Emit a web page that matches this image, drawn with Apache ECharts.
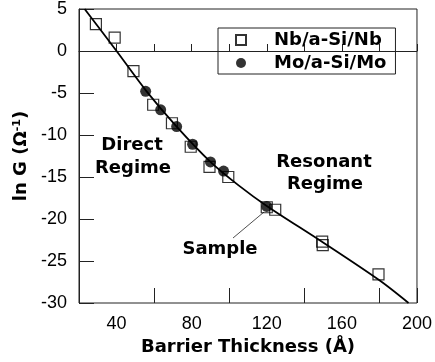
<!DOCTYPE html>
<html>
<head>
<meta charset="utf-8">
<script src="https://cdn.jsdelivr.net/npm/echarts@6/dist/echarts.min.js"></script>
<style>
  html, body { margin: 0; padding: 0; background: #fff; }
  #chart { width: 435px; height: 362px; }
</style>
</head>
<body>
<div id="chart"></div>
<script>
// Nb/a-Si/Nb junctions (open squares)
const nbThickness = [29, 39, 49, 59.5, 69.5, 79.5, 89.5, 99.5, 120, 124.5, 149.5, 149.8, 179.5];
const nbLnG = [3.2, 1.6, -2.4, -6.4, -8.6, -11.4, -13.8, -15.0, -18.6, -18.9, -22.7, -23.1, -26.6];

// Mo/a-Si/Mo junctions (filled circles)
const moThickness = [55.5, 63.5, 72, 80.5, 90, 97, 120];
const moLnG = [-4.8, -7.0, -9.0, -11.1, -13.2, -14.3, -18.5];

// fitted curve
const fitThickness = [23, 40, 56, 72, 90, 105, 120, 150, 180, 195.5];
const fitLnG = [5, 0, -4.8, -9.0, -13.2, -16.0, -18.45, -22.8, -27.3, -30];

const FONT = 'Liberation Sans';
const BOLD = 'DejaVu Sans';
const boldFont = 'bold 18px "DejaVu Sans"';
const pairs = (xs, ys) => xs.map((x, i) => [x, ys[i]]);

const chart = echarts.init(document.getElementById('chart'));

function label(text, x, y) {
  return {
    type: 'text', x, y,
    style: { text, font: boldFont, fill: '#000', align: 'center', verticalAlign: 'middle' }
  };
}

chart.setOption({
  animation: false,
  grid: {
    left: 79, right: 17, top: 9, bottom: 59,
    show: true, borderColor: '#222', borderWidth: 1
  },
  legend: {
    left: 218, top: 28,
    orient: 'vertical',
    data: ['Nb/a-Si/Nb', 'Mo/a-Si/Mo'],
    borderColor: '#222', borderWidth: 1,
    padding: [3, 9, 2, 17],
    itemWidth: 10, itemHeight: 10, itemGap: 5,
    textStyle: {
      fontFamily: BOLD, fontSize: 18, fontWeight: 'bold', color: '#000',
      lineHeight: 18, padding: [0, 0, 0, 23]
    }
  },
  xAxis: [
    {
      type: 'value', min: 20, max: 200, interval: 20,
      position: 'bottom',
      name: 'Barrier Thickness (Å)',
      nameLocation: 'middle', nameGap: 34,
      nameTextStyle: { fontFamily: BOLD, fontSize: 18, fontWeight: 'bold', color: '#000' },
      axisLine: { lineStyle: { color: '#222', width: 1 } },
      axisTick: { inside: true, length: 7, lineStyle: { color: '#222' } },
      axisLabel: {
        fontFamily: FONT, fontSize: 18, color: '#000', margin: 12,
        formatter: v => (v % 40 === 0 ? String(v) : '')
      },
      splitLine: { show: false }
    },
    {
      type: 'value', min: 20, max: 200, interval: 40,
      position: 'bottom',
      axisLine: { show: false },
      axisTick: { inside: true, length: 15, lineStyle: { color: '#222' } },
      axisLabel: { show: false },
      splitLine: { show: false }
    }
  ],
  yAxis: {
    type: 'value', min: -30, max: 5, interval: 5,
    name: 'ln G (Ω{sup|-1})',
    nameLocation: 'middle', nameGap: 41,
    nameTextStyle: {
      fontFamily: BOLD, fontSize: 18, fontWeight: 'bold', color: '#000',
      rich: {
        sup: { fontFamily: BOLD, fontSize: 11, fontWeight: 'bold', color: '#000', verticalAlign: 'top', padding: [0, 0, 8, 0] }
      }
    },
    axisLine: { lineStyle: { color: '#222', width: 1 } },
    axisTick: { inside: true, length: 15, lineStyle: { color: '#222' } },
    axisLabel: { fontFamily: FONT, fontSize: 18, color: '#000', margin: 12 },
    splitLine: { show: false }
  },
  series: [
    {
      name: 'fit',
      type: 'line',
      data: pairs(fitThickness, fitLnG),
      smooth: 0.3,
      showSymbol: false,
      lineStyle: { color: '#000', width: 1.8 },
      silent: true,
      z: 1
    },
    {
      name: 'Nb/a-Si/Nb',
      type: 'scatter',
      data: pairs(nbThickness, nbLnG),
      symbol: 'rect',
      symbolSize: 11,
      itemStyle: { color: 'rgba(0,0,0,0)', borderColor: '#000', borderWidth: 1.2 },
      z: 3
    },
    {
      name: 'Mo/a-Si/Mo',
      type: 'scatter',
      data: pairs(moThickness, moLnG),
      symbol: 'circle',
      symbolSize: 11,
      itemStyle: { color: '#000' },
      z: 4
    }
  ],
  graphic: [
    label('Direct', 132, 145),
    label('Regime', 133, 168),
    label('Resonant', 324, 162),
    label('Regime', 325, 184),
    label('Sample', 220, 249),
    { type: 'line', shape: { x1: 233, y1: 238, x2: 264, y2: 212 }, style: { stroke: '#222', lineWidth: 0.8 } }
  ]
});
</script>
</body>
</html>
